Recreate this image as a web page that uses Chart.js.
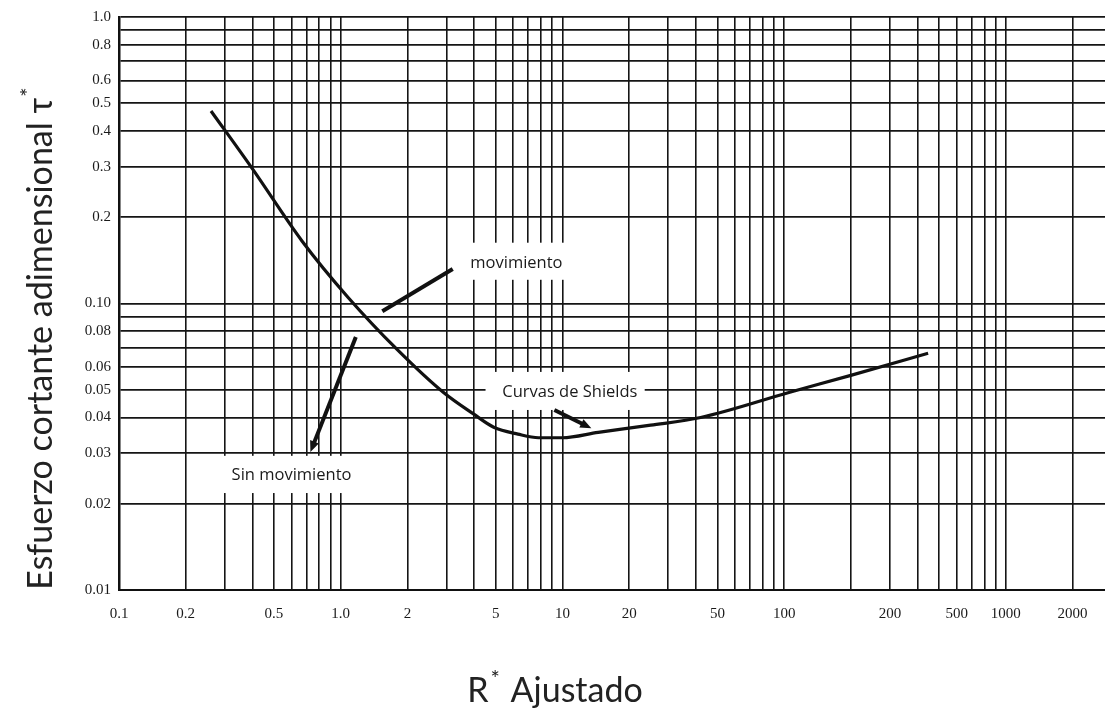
<!DOCTYPE html>
<html>
<head>
<meta charset="utf-8">
<script src="https://cdn.jsdelivr.net/npm/chart.js@4"></script>
<style>
  html, body { margin: 0; padding: 0; background: #fff; }
  #wrap { width: 1105px; height: 709px; position: relative; }
</style>
</head>
<body>
<div id="wrap"><canvas id="chart"></canvas></div>
<script>
// Shields curve
const shieldsX = [0.26, 0.4, 0.67, 1.08, 1.8, 2.9, 4.0, 4.9, 6.3, 7.8, 10, 14.5, 25, 42, 106, 198, 446];
const shieldsY = [0.47, 0.295, 0.165, 0.105, 0.069, 0.049, 0.041, 0.037, 0.035, 0.034, 0.034, 0.0355, 0.0376, 0.040, 0.049, 0.056, 0.067];

// grid lines (log paper)
const xGrid = [0.1,0.2,0.3,0.4,0.5,0.6,0.7,0.8,0.9,1,2,3,4,5,6,7,8,9,10,20,30,40,50,60,70,80,90,100,200,300,400,500,600,700,800,900,1000,2000];
const yGrid = [0.01,0.02,0.03,0.04,0.05,0.06,0.07,0.08,0.09,0.1,0.2,0.3,0.4,0.5,0.6,0.7,0.8,0.9,1.0];

// tick labels as printed on the scan (200 and 500 sit under the 300 / 600 lines there)
const xLabelAt = [0.1, 0.2, 0.5, 1, 2, 5, 10, 20, 50, 100, 300, 600, 1000, 2000];
const xLabelText = ['0.1','0.2','0.5','1.0','2','5','10','20','50','100','200','500','1000','2000'];
const yLabelAt = [0.01, 0.02, 0.03, 0.04, 0.05, 0.06, 0.08, 0.1, 0.2, 0.3, 0.4, 0.5, 0.6, 0.8, 1.0];
const yLabelText = ['0.01','0.02','0.03','0.04','0.05','0.06','0.08','0.10','0.2','0.3','0.4','0.5','0.6','0.8','1.0'];

// annotations: text, text anchor, white box corners, arrow from/to (data units)
const noteText = ['movimiento', 'Curvas de Shields', 'Sin movimiento'];
const noteAt = [[6.2, 0.138], [10.8, 0.049], [0.6, 0.0252]];
const noteBox = [[[3.5, 0.163], [11.4, 0.121]], [[4.5, 0.0577], [23.5, 0.0425]], [[0.23, 0.0294], [1.42, 0.0218]]];
const arrowFrom = [[3.2, 0.132], [9.2, 0.0425], [1.17, 0.0764]];
const arrowTo = [[1.54, 0.094], [13.5, 0.0367], [0.73, 0.0303]];
const arrowHead = [false, true, true];

const near = (a, b) => Math.abs(a - b) < b * 1e-6;

const notesPlugin = {
  id: 'notes',
  beforeDatasetsDraw(chart) {
    const {ctx, scales: {x, y}} = chart;
    ctx.save();
    ctx.fillStyle = '#fff';
    noteBox.forEach(b => {
      const x0 = x.getPixelForValue(b[0][0]), y0 = y.getPixelForValue(b[0][1]);
      const x1 = x.getPixelForValue(b[1][0]), y1 = y.getPixelForValue(b[1][1]);
      ctx.fillRect(x0, y0, x1 - x0, y1 - y0);
    });
    ctx.restore();
  },
  afterDatasetsDraw(chart) {
    const {ctx, scales: {x, y}} = chart;
    ctx.save();
    ctx.strokeStyle = '#111';
    ctx.fillStyle = '#111';
    ctx.lineWidth = 4;
    arrowFrom.forEach((f, i) => {
      const ax = x.getPixelForValue(f[0]), ay = y.getPixelForValue(f[1]);
      const bx = x.getPixelForValue(arrowTo[i][0]), by = y.getPixelForValue(arrowTo[i][1]);
      const ang = Math.atan2(by - ay, bx - ax);
      const head = arrowHead[i] ? 12 : 0;
      ctx.beginPath();
      ctx.moveTo(ax, ay);
      ctx.lineTo(bx - head * 0.8 * Math.cos(ang), by - head * 0.8 * Math.sin(ang));
      ctx.stroke();
      if (arrowHead[i]) {
        ctx.beginPath();
        ctx.moveTo(bx, by);
        ctx.lineTo(bx - head * Math.cos(ang - 0.4), by - head * Math.sin(ang - 0.4));
        ctx.lineTo(bx - head * Math.cos(ang + 0.4), by - head * Math.sin(ang + 0.4));
        ctx.closePath();
        ctx.fill();
      }
    });
    ctx.font = '16.5px "Open Sans"';
    ctx.fillStyle = '#1a1a1a';
    ctx.textAlign = 'center';
    ctx.textBaseline = 'middle';
    noteText.forEach((t, i) => {
      ctx.fillText(t, x.getPixelForValue(noteAt[i][0]), y.getPixelForValue(noteAt[i][1]));
    });

    // axis titles with superscript star
    ctx.fillStyle = '#222';
    ctx.textAlign = 'left';
    ctx.textBaseline = 'alphabetic';
    const big = '34px Lato', small = '22px Lato';
    // x title
    ctx.font = big;
    const wR = ctx.measureText('R').width;
    ctx.font = small;
    const wS = ctx.measureText('*').width + 4;
    ctx.font = big;
    const wA = ctx.measureText(' Ajustado').width;
    let sx = 555 - (wR + wS + wA) / 2;
    ctx.fillText('R', sx, 702);
    ctx.font = small;
    ctx.fillText('*', sx + wR + 2, 686);
    ctx.font = big;
    ctx.fillText(' Ajustado', sx + wR + wS, 702);
    // y title
    ctx.translate(52, 339);
    ctx.rotate(-Math.PI / 2);
    const main = 'Esfuerzo cortante adimensional τ';
    const wM = ctx.measureText(main).width;
    ctx.font = small;
    const wS2 = ctx.measureText('*').width;
    ctx.font = big;
    const start = -(wM + wS2) / 2;
    ctx.fillText(main, start, 0);
    ctx.font = small;
    ctx.fillText('*', start + wM + 1, -16);
    ctx.restore();
  }
};

new Chart(document.getElementById('chart'), {
  type: 'line',
  data: {
    datasets: [{
      label: 'Curva de Shields',
      data: shieldsX.map((v, i) => ({x: v, y: shieldsY[i]})),
      borderColor: '#111',
      borderWidth: 3.2,
      pointRadius: 0,
      cubicInterpolationMode: 'monotone',
      fill: false
    }]
  },
  options: {
    responsive: true,
    maintainAspectRatio: false,
    animation: false,
    layout: {padding: {top: 17, left: 0, right: 0, bottom: 0}},
    plugins: {legend: {display: false}, tooltip: {enabled: false}},
    scales: {
      x: {
        type: 'logarithmic',
        min: 0.1,
        max: 2800,
        afterBuildTicks: s => { s.ticks = xGrid.map(v => ({value: v})); },
        afterFit: s => { s.height = 119; s.paddingLeft = 0; s.paddingRight = 0; },
        grid: {color: '#151515', lineWidth: 1.6, drawTicks: false},
        border: {color: '#111', width: 2},
        ticks: {
          autoSkip: false,
          maxRotation: 0,
          padding: 15,
          color: '#1a1a1a',
          font: {family: '"Liberation Serif"', size: 15},
          callback: v => {
            const i = xLabelAt.findIndex(a => near(v, a));
            return i < 0 ? '' : xLabelText[i];
          }
        }
      },
      y: {
        type: 'logarithmic',
        min: 0.01,
        max: 1.0,
        afterBuildTicks: s => { s.ticks = yGrid.map(v => ({value: v})); },
        afterFit: s => { s.width = 119; },
        grid: {color: '#151515', lineWidth: 1.8, drawTicks: false},
        border: {color: '#111', width: 2.5},
        ticks: {
          autoSkip: false,
          padding: 8,
          color: '#1a1a1a',
          font: {family: '"Liberation Serif"', size: 15},
          callback: v => {
            const i = yLabelAt.findIndex(a => near(v, a));
            return i < 0 ? '' : yLabelText[i];
          }
        }
      }
    }
  },
  plugins: [notesPlugin]
});
</script>
</body>
</html>
